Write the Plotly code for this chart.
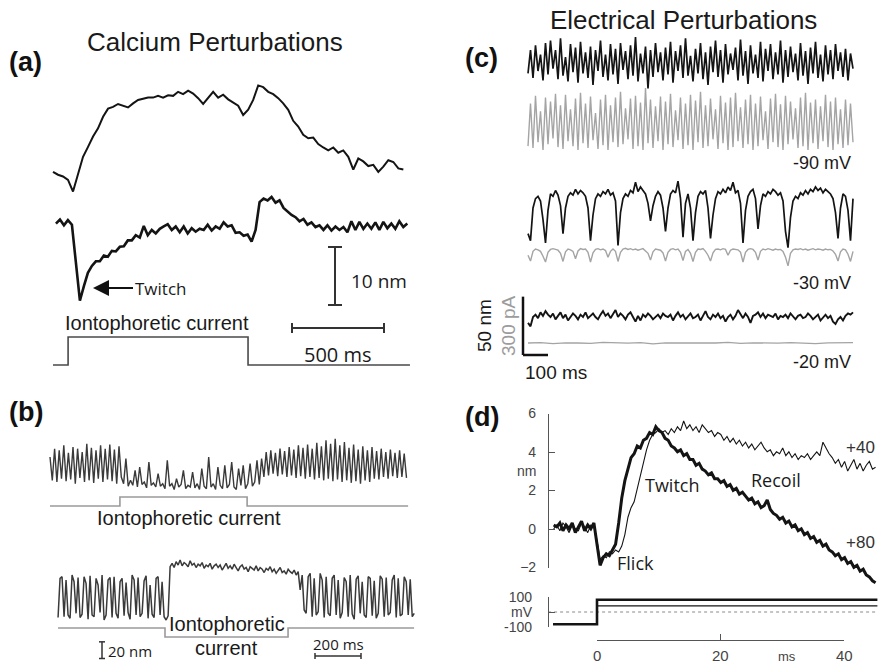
import plotly.graph_objects as go

W, H = 880, 664
ARIAL = "Liberation Sans, Arial, sans-serif"
HUMAN = "Open Sans, Noto Sans, sans-serif"

# ------------------------------------------------------------------
# (a) Calcium perturbations - bundle position (nm) against time (ms)
a_top_dt = 27.2
a_top_nm = [0.2, -0.3, -0.6, -1.2, -3.2, -0.1, 2.8, 4.5, 6.3, 7.7,
            9.7, 11.1, 11.4, 11.9, 11.6, 11.3, 12.0, 12.6, 12.8, 13.0,
            13.0, 13.3, 13.0, 13.4, 13.3, 14.0, 13.6, 14.2, 13.7, 12.9,
            11.9, 13.0, 14.0, 13.0, 13.5, 12.7, 12.2, 11.6, 10.0, 10.9,
            12.6, 15.1, 14.8, 14.0, 13.6, 12.9, 12.0, 10.9, 9.0, 8.0,
            6.6, 6.0, 6.1, 5.0, 4.4, 3.9, 4.4, 3.5, 3.9, 2.8,
            0.6, 2.5, 2.0, 1.2, 1.4, 0.2, 1.1, 2.2, 1.9, 0.8, 0.6]
a_twitch_t0 = 16.0
a_twitch_dt = 21.7
a_twitch_nm = [-0.1, 0.6, -0.4, 0.5, -0.3, -7.5, -13.4, -10.9, -8.6, -7.4,
               -6.6, -6.6, -5.6, -5.8, -4.8, -4.9, -4.1, -4.0, -3.0, -3.0,
               -2.1, -2.5, -0.5, -2.1, -1.2, -1.8, -1.0, -0.6, -0.2, -1.2,
               -0.6, -1.6, -0.6, -1.8, -0.9, -1.5, -1.0, -1.2, -0.3, -1.3,
               -0.6, -1.0, 0.1, -0.6, -0.4, -1.7, -1.6, -2.2, -2.0, -3.2,
               -1.2, 3.6, 4.2, 3.9, 4.5, 3.5, 3.9, 2.6, 2.0, 1.4,
               1.0, 0.3, 0.7, -0.3, 0.1, -0.7, -0.4, -1.2, -0.4, -1.3,
               -0.6, -1.2, -0.7, -1.6, 0.3, -1.2, 0.2, -1.0, -0.1, -1.0,
               0.1, -1.2, 0.2, -0.9, -0.1, -1.0, 0.3, -0.7, -0.1]
a_current_ms = [0, 82, 82, 1060, 1060, 1940]
a_current_on = [0, 0, 1, 1, 0, 0]

# (b) spontaneous oscillations interrupted by iontophoresis
b_top_dt = 10.0
b_top_nm = [30, 2, 40, 0, 38, 4, 44, 1, 35, 3, 42, -2, 40, 5, 36, 0, 46, 2, 41, -1,
            38, 4, 44, 0, 40, 3, 45, 1, 39, -2, 43, 6,
            -2, 28, -5, 2, -4, 14, -6, 18, -3, 0, -7, 24, -4, -1, -6, 10, -5, -2, -8, 26,
            -5, -2, -9, 4, -6, -3, 14, -8, -4, -6, 12, -7, -2, -9, 16, -5, -8, 30, -6, -2,
            -9, 18, -4, -8, 20, -7, -3, 24, -6, -9, 16, -4, 20, -8, -2, 22, -5, 0, 26, -3, 28,
            6, 36, 8, 38, 10, 35, 7, 40, 9, 37, 6, 42, 8, 39, 5, 44, 7, 41, 4, 45,
            6, 40, 3, 47, 5, 43, 2, 50, 4, 46, 1, 52, 3, 44, 0, 48, 2, 41, -1, 45,
            1, 39, -2, 43, 2, 38, 0, 42, 4, 37, 3, 40, 6, 36, 4, 39, 7, 35, 5, 38,
            6, 34, 5]
b_top_current_ms = [0, 304, 304, 857, 857, 1557]
b_top_current_on = [0, 0, 1, 1, 0, 0]
b_bottom_t0 = 35.0
b_bottom_dt = 8.7
b_bottom_nm = [-3, 44, 46, -2, 42, 0, -4, 48, 40, 2, 45, -3, 1, 46, 38, -5, 47, 0, -2, 44,
               36, 3, 48, -6, 0, 42, 45, -3, 46, 2, -4, 40, 44, -1, 39, 3, -5, 48, 42, 0,
               45, -2, 2, 41, 47, -4, 36, 1, -3, 44, 46, 0, 40, -2, -6, -1,
               58, 62, 57, 64, 60, 66, 59, 63, 61, 58, 65, 60, 62, 57, 61, 59, 63, 56, 60, 58,
               62, 55, 59, 61, 57, 60, 54, 58, 62, 56, 59, 55, 61, 57, 53, 58, 60, 55, 57, 52,
               58, 56, 54, 59, 53, 57, 55, 51, 56, 54, 58, 52, 55, 50, 54, 57, 51, 53, 49, 55,
               52, 50, 54, 48, 52,
               30, 48, 6, 2, 46, 50, -2, 44, 0, 4, 50, 42, -3, 46, 2, -1, 44, 48, 0, 42,
               -4, 3, 45, 40, -2, 48, 1, -5, 43, 47, 2, 40, 0, -3, 46, 44, -1, 41, -4, 2,
               47, 43, -2, 45, 0, 3, 42, 48, -3, 44, -1, 1, 46, 40, 0, 43, -2, 2]
b_bottom_current_ms = [35, 500, 500, 1035, 1035, 1583]
b_bottom_current_on = [0, 0, -1, -1, 0, 0]

# (c) electrical perturbations: displacement (nm, black) and current (pA, grey)
c_dt = 10.0
c_m90_nm = [10, 30, 6, 34, 12, 26, 4, 36, 9, 38, 14, 30, 5, 40, 8, 24, 3, 35, 11, 32,
            2, 37, 10, 28, 6, 33, 0, 30, 12, 38, 7, 26, 4, 35, 9, 31, 1, 36, 13, 29,
            5, 34, 8, 41, 3, 27, 10, 33, -3, 30, 7, 36, 11, 28, 4, 32, 9, 37, 2, 29,
            12, 34, 6, 40, 8, 25, 3, 31, 10, 36, 5, 28, 0, 33, 11, 38, 7, 30, 2, 35,
            9, 27, 13, 32, 4, 39, 8, 29, 1, 34, 10, 26, 6, 37, 3, 31, 12, 35, 5, 28,
            9, 38, 2, 30, 7, 33, 11, 27, 4, 36, 8, 29, 1, 32, 10, 37, 6, 26, 3, 34,
            9, 30, 5, 35, 12, 28, 7, 31, 4, 27, 14]
c_m90_pA = [20, 240, 10, 280, 40, 200, 0, 270, 30, 250, 60, 290, 15, 230, 5, 285, 45, 210, 20, 265,
            0, 295, 35, 240, 10, 275, 50, 190, 5, 260, 25, 285, 0, 230, 40, 270, 15, 300, 30, 215,
            55, 265, 5, 280, 20, 245, 0, 320, 35, 260, 10, 225, 45, 275, 0, 250, 30, 290, 15, 205,
            50, 270, 5, 240, 25, 285, 0, 255, 40, 300, 10, 230, 20, 265, 55, 210, 5, 280, 35, 245,
            0, 270, 15, 295, 45, 220, 10, 260, 30, 285, 0, 240, 20, 275, 50, 200, 5, 265, 40, 290,
            15, 235, 0, 280, 30, 250, 55, 215, 10, 270, 20, 295, 0, 245, 35, 260, 5, 225, 45, 285,
            15, 250, 0, 270, 30, 210, 10, 260, 25, 240, 40]
c_m30_nm = [8, 2, 30, 38, 40, 36, 20, 0, 28, 42, 40, 45, 41, 32, 8, 30, 40, 43, 41, 46,
            42, 45, 43, 40, 30, 2, 24, 38, 42, 40, 44, 42, 46, 41, 43, 36, -2, 26, 38, 42,
            40, 45, 43, 52, 44, 48, 45, 42, 34, 19, 32, 40, 44, 41, 30, 10, 30, 42, 45, 43,
            53, 38, 5, 34, 42, 30, 2, 26, 40, 44, 42, 45, 30, 4, 24, 38, 44, 42, 46, 43,
            48, 45, 52, 43, 45, 34, 0, 28, 40, 44, 46, 38, 12, 32, 42, 40, 44, 42, 46, 44,
            41, 43, 36, 10, -4, 22, 36, 40, 38, 43, 41, 45, 42, 46, 44, 48, 45, 47, 43, 46,
            44, 42, 38, 26, 4, 30, 42, 40, 28, 2, 38]
c_m30_pA = [40, 10, 60, 72, 68, 60, 35, 5, 55, 70, 74, 70, 66, 50, 8, 58, 72, 68, 60, 22,
            62, 74, 70, 72, 55, 5, 52, 70, 74, 68, 72, 64, 30, 60, 72, 60, 8, 55, 72, 76,
            70, 74, 68, 72, 66, 70, 74, 62, 50, 15, 58, 72, 70, 66, 52, 10, 55, 70, 74, 68,
            72, 55, 12, 60, 70, 50, 8, 55, 72, 70, 74, 60, 40, 10, 52, 70, 72, 68, 74, 70,
            40, 66, 72, 70, 68, 56, 5, 55, 70, 74, 70, 55, 15, 60, 72, 68, 74, 70, 66, 72,
            68, 70, 60, 30, -15, 50, 68, 72, 70, 74, 68, 72, 66, 70, 74, 68, 72, 70, 66, 72,
            68, 70, 62, 45, 10, 58, 72, 68, 45, 8, 60]
c_m20_nm = [-5, -8, 0, 2, -1, 4, 1, 5, 2, 0, 3, -2, 1, 4, -1, 2, -3, 0, 3, 1,
            -2, 2, 0, 4, -1, 1, 3, 0, -2, 2, 5, 1, 3, -1, 2, 6, 0, 3, 1, -2,
            2, 4, 0, -4, 1, -3, 2, 0, 3, 1, -2, 0, 2, -1, 3, 1, 0, 2, -3, 1,
            4, 0, 2, -2, 1, 3, -1, 0, 2, -3, 1, 5, 0, -2, 2, 0, 3, -1, 1, -4,
            0, 2, -2, 1, 6, 2, -1, 3, 0, -5, 1, 2, 4, 0, 3, -1, 2, 1, 0, 3,
            -2, 1, 0, 2, -1, 3, 0, -2, 1, 2, -1, 0, 3, 1, -2, 0, 2, -3, 0, 2,
            -1, 1, -4, -6, -2, 0, -3, 1, 3, 2, 4]
c_m20_pA_dt = 50.0
c_m20_pA = [0, 2, -3, 1, 0, -2, 3, 0, -1, 2, -4, 1, 0, 2, -1, 0, 3, -2, 1, 0,
            -1, 2, 0, -3, 1, 0, 2]

# (d) twitch / flick / recoil for two voltage steps
d_t0 = -7.0
d_dt = 0.5
d_p80_nm = [0.2, 0.1, 0.3, -0.1, 0.2, 0.0, 0.3, -0.2, 0.1, 0.4, -0.1, 0.2, 0.0, 0.3,
            -0.8, -1.9, -1.5, -1.3, -1.4, -1.1, -0.8, 0.3, 1.6, 2.5, 3.1, 3.7, 3.9, 4.3,
            4.2, 4.6, 4.7, 5.0, 4.9, 5.3, 5.1, 5.0, 4.7, 4.6, 4.3, 4.2, 4.0, 4.1, 3.8, 3.9,
            3.6, 3.6, 3.3, 3.4, 3.1, 3.0, 2.8, 2.9, 2.6, 2.6, 2.4, 2.5, 2.2, 2.3, 2.0, 2.1,
            1.8, 1.9, 1.7, 1.5, 1.6, 1.3, 1.4, 1.1, 1.2, 1.5, 1.0, 0.8, 0.7, 0.5, 0.6, 0.3,
            0.4, 0.1, 0.2, -0.1, 0.0, -0.3, -0.2, -0.5, -0.4, -0.7, -0.6, -0.9, -0.8, -1.1,
            -1.2, -1.4, -1.3, -1.6, -1.5, -1.8, -1.7, -2.0, -1.9, -2.2, -2.1, -2.4, -2.5,
            -2.7, -2.8]
d_p40_nm = [0.0, 0.2, -0.1, 0.3, 0.1, -0.2, 0.2, 0.0, -0.1, 0.3, 0.1, -0.2, 0.2, 0.1,
            -0.6, -1.6, -1.4, -1.5, -1.2, -1.3, -1.1, -1.2, -0.9, -0.3, 0.6, 1.1, 1.4, 2.1,
            2.8, 3.5, 4.1, 4.6, 4.9, 5.0, 5.2, 5.0, 5.1, 4.9, 5.2, 5.0, 5.3, 5.1, 5.6, 5.2,
            5.4, 5.1, 5.3, 5.0, 5.4, 5.2, 5.0, 5.1, 4.8, 5.0, 4.9, 4.6, 4.8, 4.5, 4.7, 4.4,
            4.6, 4.3, 4.5, 4.2, 4.4, 4.1, 4.3, 4.5, 4.2, 4.0, 4.1, 3.8, 4.0, 3.9, 4.2, 3.8,
            4.0, 3.7, 3.9, 3.6, 3.8, 3.7, 3.9, 3.6, 3.8, 4.0, 3.8, 4.5, 4.2, 3.9, 3.7, 3.4,
            3.6, 3.2, 3.5, 3.0, 3.3, 3.6, 3.1, 3.4, 3.0, 3.3, 3.5, 3.1, 3.2]
d_step_ms = [-7.1, 0, 0, 45.3]
d_step_p80_mV = [-80, -80, 80, 80]
d_step_p40_mV = [-80, -80, 40, 40]
d_rest_ms = [-7.9, 45.3]
d_rest_mV = [0, 0]
d_time_ticks = [0, 20, 40]

# ------------------------------------------------------------------
# Axis scales: (pixel of data zero, pixels per data unit)
X_SCALE = {"x": (53, 0.184),     # (a) ms
           "x2": (50, 0.23),     # (b) ms
           "x3": (528, 0.25),    # (c) ms
           "x4": (597, 6.19)}    # (d) ms
Y_SCALE = {"y": (173, 5.8),      # (a) upper trace, nm
           "y2": (223, 5.8),     # (a) lower trace, nm
           "y3": (365, 28.0),    # (a) iontophoretic current
           "y4": (482, 0.833),   # (b) upper trace, nm
           "y5": (506, 9.0),     # (b) upper current
           "y6": (615, 0.833),   # (b) lower trace, nm
           "y7": (628, 9.0),     # (b) lower current
           "y8": (85, 1.167),    # (c) -90 mV, nm
           "y9": (150, 0.194),   # (c) -90 mV, pA
           "y10": (243, 1.167),  # (c) -30 mV, nm
           "y11": (263, 0.194),  # (c) -30 mV, pA
           "y12": (317, 1.167),  # (c) -20 mV, nm
           "y13": (343, 0.194),  # (c) -20 mV, pA
           "y14": (528.8, 19.25)}  # (d) nm


def xd(ax, px):
    z, s = X_SCALE[ax]
    return (px - z) / s


def yd(ax, py):
    z, s = Y_SCALE[ax]
    return (z - py) / s


def P(px, py):
    return px / W, 1 - py / H


def times(t0, dt, vals):
    return [t0 + i * dt for i in range(len(vals))]


fig = go.Figure()


def line(x, y, xa, ya, color, width, dash=None):
    fig.add_trace(go.Scatter(x=x, y=y, xaxis=xa, yaxis=ya, mode="lines",
                             line=dict(color=color, width=width, dash=dash),
                             hoverinfo="skip", showlegend=False))


BLACK = "#141414"
GREY = "#a4a4a4"

# (a)
line(times(0, a_top_dt, a_top_nm), a_top_nm, "x", "y", BLACK, 2)
line(times(a_twitch_t0, a_twitch_dt, a_twitch_nm), a_twitch_nm, "x", "y2", BLACK, 2.6)
line(a_current_ms, a_current_on, "x", "y3", "#4a4a4a", 1.6)

# (b)
line(times(0, b_top_dt, b_top_nm), b_top_nm, "x2", "y4", "#3a3a3a", 1.4)
line(b_top_current_ms, b_top_current_on, "x2", "y5", "#9a9a9a", 1.6)
line(times(b_bottom_t0, b_bottom_dt, b_bottom_nm), b_bottom_nm, "x2", "y6", "#3a3a3a", 1.5)
line(b_bottom_current_ms, b_bottom_current_on, "x2", "y7", "#9a9a9a", 1.6)

# (c)
line(times(0, c_dt, c_m90_nm), c_m90_nm, "x3", "y8", BLACK, 1.7)
line(times(0, c_dt, c_m90_pA), c_m90_pA, "x3", "y9", GREY, 1.4)
line(times(0, c_dt, c_m30_nm), c_m30_nm, "x3", "y10", BLACK, 1.7)
line(times(0, c_dt, c_m30_pA), c_m30_pA, "x3", "y11", GREY, 1.4)
line(times(0, c_dt, c_m20_nm), c_m20_nm, "x3", "y12", BLACK, 1.9)
line(times(0, c_m20_pA_dt, c_m20_pA), c_m20_pA, "x3", "y13", GREY, 1.3)

# (d)
line(times(d_t0, d_dt, d_p40_nm), d_p40_nm, "x4", "y14", BLACK, 1.1)
line(times(d_t0, d_dt, d_p80_nm), d_p80_nm, "x4", "y14", BLACK, 3)
line(d_rest_ms, d_rest_mV, "x4", "y16", "#8a8a8a", 1, dash="dot")
line(d_step_ms, d_step_p40_mV, "x4", "y16", BLACK, 1.4)
line(d_step_ms, d_step_p80_mV, "x4", "y16", BLACK, 2.6)
# keeps the (d) nm / ms frame axes alive
fig.add_trace(go.Scatter(x=[0], y=[0], xaxis="x5", yaxis="y15", mode="markers",
                         marker=dict(opacity=0, size=1), hoverinfo="skip", showlegend=False))

# ------------------------------------------------------------------
# Scale bars
shapes = []


def seg(xa, ya, x0, y0, x1, y1, color="#333333", width=2):
    shapes.append(dict(type="line", xref=xa, yref=ya, x0=x0, y0=y0, x1=x1, y1=y1,
                       line=dict(color=color, width=width)))


# (a) 10 nm and 500 ms
xb, yb0 = xd("x", 335), yd("y2", 305)
cw = 7 / X_SCALE["x"][1]
seg("x", "y2", xb, yb0, xb, yb0 + 10)
seg("x", "y2", xb - cw, yb0, xb + cw, yb0)
seg("x", "y2", xb - cw, yb0 + 10, xb + cw, yb0 + 10)
xh0, yh = xd("x", 292), yd("y2", 328)
ch = 5 / Y_SCALE["y2"][1]
seg("x", "y2", xh0, yh, xh0 + 500, yh)
seg("x", "y2", xh0, yh - ch, xh0, yh + ch)
seg("x", "y2", xh0 + 500, yh - ch, xh0 + 500, yh + ch)

# (b) 20 nm and 200 ms
xb, yb0 = xd("x2", 102), yd("y6", 658.5)
cw = 3 / X_SCALE["x2"][1]
seg("x2", "y6", xb, yb0, xb, yb0 + 20, width=1.5)
seg("x2", "y6", xb - cw, yb0 + 20, xb + cw, yb0 + 20, width=1.5)
seg("x2", "y6", xb - cw, yb0, xb + cw, yb0, width=1.5)
xh0, yh = xd("x2", 315), yd("y6", 656)
ch = 3 / Y_SCALE["y6"][1]
seg("x2", "y6", xh0, yh, xh0 + 200, yh, width=1.5)
seg("x2", "y6", xh0, yh - ch, xh0, yh + ch, width=1.5)
seg("x2", "y6", xh0 + 200, yh - ch, xh0 + 200, yh + ch, width=1.5)

# (c) 50 nm / 300 pA and 100 ms
xl, yl = xd("x3", 523), yd("y12", 355)
seg("x3", "y12", xl, yl, xl, yl + 50, color="#111111", width=2.5)
seg("x3", "y12", xl, yl, xl + 100, yl, color="#111111", width=2.5)

# ------------------------------------------------------------------
# Text
ann = []


def text(s, px, py, size, color="#1a1a1a", family=ARIAL, xanchor="center", angle=0):
    x, y = P(px, py)
    ann.append(dict(text=s, x=x, y=y, xref="paper", yref="paper", xanchor=xanchor,
                    yanchor="middle", showarrow=False, textangle=angle,
                    font=dict(size=size, color=color, family=family)))


for lab, px, py in [("(a)", 25, 62), ("(b)", 26, 412), ("(c)", 481, 58), ("(d)", 482, 417)]:
    text("<b>" + lab + "</b>", px, py, 27, color="#111111")

text("Calcium Perturbations", 215, 42, 26)
text("Electrical Perturbations", 683, 20, 26)

# (a)
text("Iontophoretic current", 157, 323, 20)
text("10 nm", 349, 281, 19, family=HUMAN, xanchor="left")
text("500 ms", 338, 354, 20, family=HUMAN)
ann.append(dict(text="Twitch", x=xd("x", 93), y=yd("y2", 288), xref="x", yref="y2",
                ax=40, ay=0, xanchor="left", yanchor="middle", showarrow=True,
                arrowhead=2, arrowsize=1.6, arrowwidth=2, arrowcolor="#111111",
                standoff=0, font=dict(size=17, color="#1a1a1a", family=HUMAN)))

# (b)
text("Iontophoretic current", 189, 518, 20)
text("Iontophoretic", 227, 624, 20)
text("current", 227, 648, 20)
text("20 nm", 106, 651, 15, family=HUMAN, xanchor="left")
text("200 ms", 338, 644, 15, family=HUMAN)

# (c)
text("-90 mV", 853, 163, 18, xanchor="right")
text("-30 mV", 853, 283, 18, xanchor="right")
text("-20 mV", 853, 362, 18, xanchor="right")
text("50 nm", 484, 326, 19, angle=-90)
text("300 pA", 508, 326, 19, color="#9c9c9c", angle=-90)
text("100 ms", 523, 372, 19, xanchor="left")

# (d)
text("nm", 526, 471, 14, color="#444444")
text("ms", 787, 656, 13, color="#444444")
text("+40", 860, 447, 17, color="#333333")
text("+80", 860, 542, 17, color="#333333")
text("Twitch", 672, 485, 18, family=HUMAN)
text("Recoil", 776, 480, 18, family=HUMAN)
text("Flick", 635, 563, 18, family=HUMAN)
# time tick labels under the (d) frame, placed on the ms scale
for tv in d_time_ticks:
    ann.append(dict(text=str(tv), x=tv, y=1 - 655 / H, xref="x5", yref="paper",
                    xanchor="center", yanchor="middle", showarrow=False,
                    font=dict(size=15, color="#444444", family=ARIAL)))

# ------------------------------------------------------------------
# Axes
layout_axes = {}
for name, (z, s) in X_SCALE.items():
    layout_axes["xaxis" + name[1:]] = dict(domain=[0, 1], range=[-z / s, (W - z) / s],
                                           visible=False, anchor="free", position=0,
                                           fixedrange=True, automargin=False)
for name, (z, s) in Y_SCALE.items():
    layout_axes["yaxis" + name[1:]] = dict(domain=[0, 1], range=[-(H - z) / s, z / s],
                                           visible=False, anchor="free", position=0,
                                           fixedrange=True, automargin=False)

FRAME = dict(showline=True, linecolor="#555555", linewidth=1.2, ticks="inside",
             ticklen=6, tickcolor="#555555", tickwidth=1.2, showgrid=False,
             zeroline=False, fixedrange=True, automargin=False)
layout_axes["xaxis5"] = dict(FRAME, domain=[597 / W, 844.3 / W], range=[0, 40],
                             anchor="free", position=1 - 640 / H, tickvals=d_time_ticks,
                             showticklabels=False)
layout_axes["yaxis15"] = dict(FRAME, domain=[1 - 567.5 / H, 1 - 413.5 / H], range=[-2, 6],
                              anchor="free", position=548 / W, side="left",
                              tickvals=[-2, 0, 2, 4, 6],
                              tickfont=dict(size=14, color="#444444", family=ARIAL),
                              ticklabelstandoff=9)
layout_axes["yaxis16"] = dict(FRAME, domain=[1 - 627.3 / H, 1 - 596.7 / H], range=[-100, 100],
                              anchor="free", position=548 / W, side="left",
                              tickvals=[-100, 0, 100], ticktext=["-100", "mV", "100"],
                              tickfont=dict(size=14, color="#444444", family=ARIAL),
                              ticklabelstandoff=13)

fig.update_layout(width=W, height=H, autosize=False,
                  margin=dict(l=0, r=0, t=0, b=0, pad=0, autoexpand=False),
                  paper_bgcolor="white", plot_bgcolor="rgba(0,0,0,0)",
                  showlegend=False, shapes=shapes, annotations=ann,
                  **layout_axes)

fig.write_html("out.html")
